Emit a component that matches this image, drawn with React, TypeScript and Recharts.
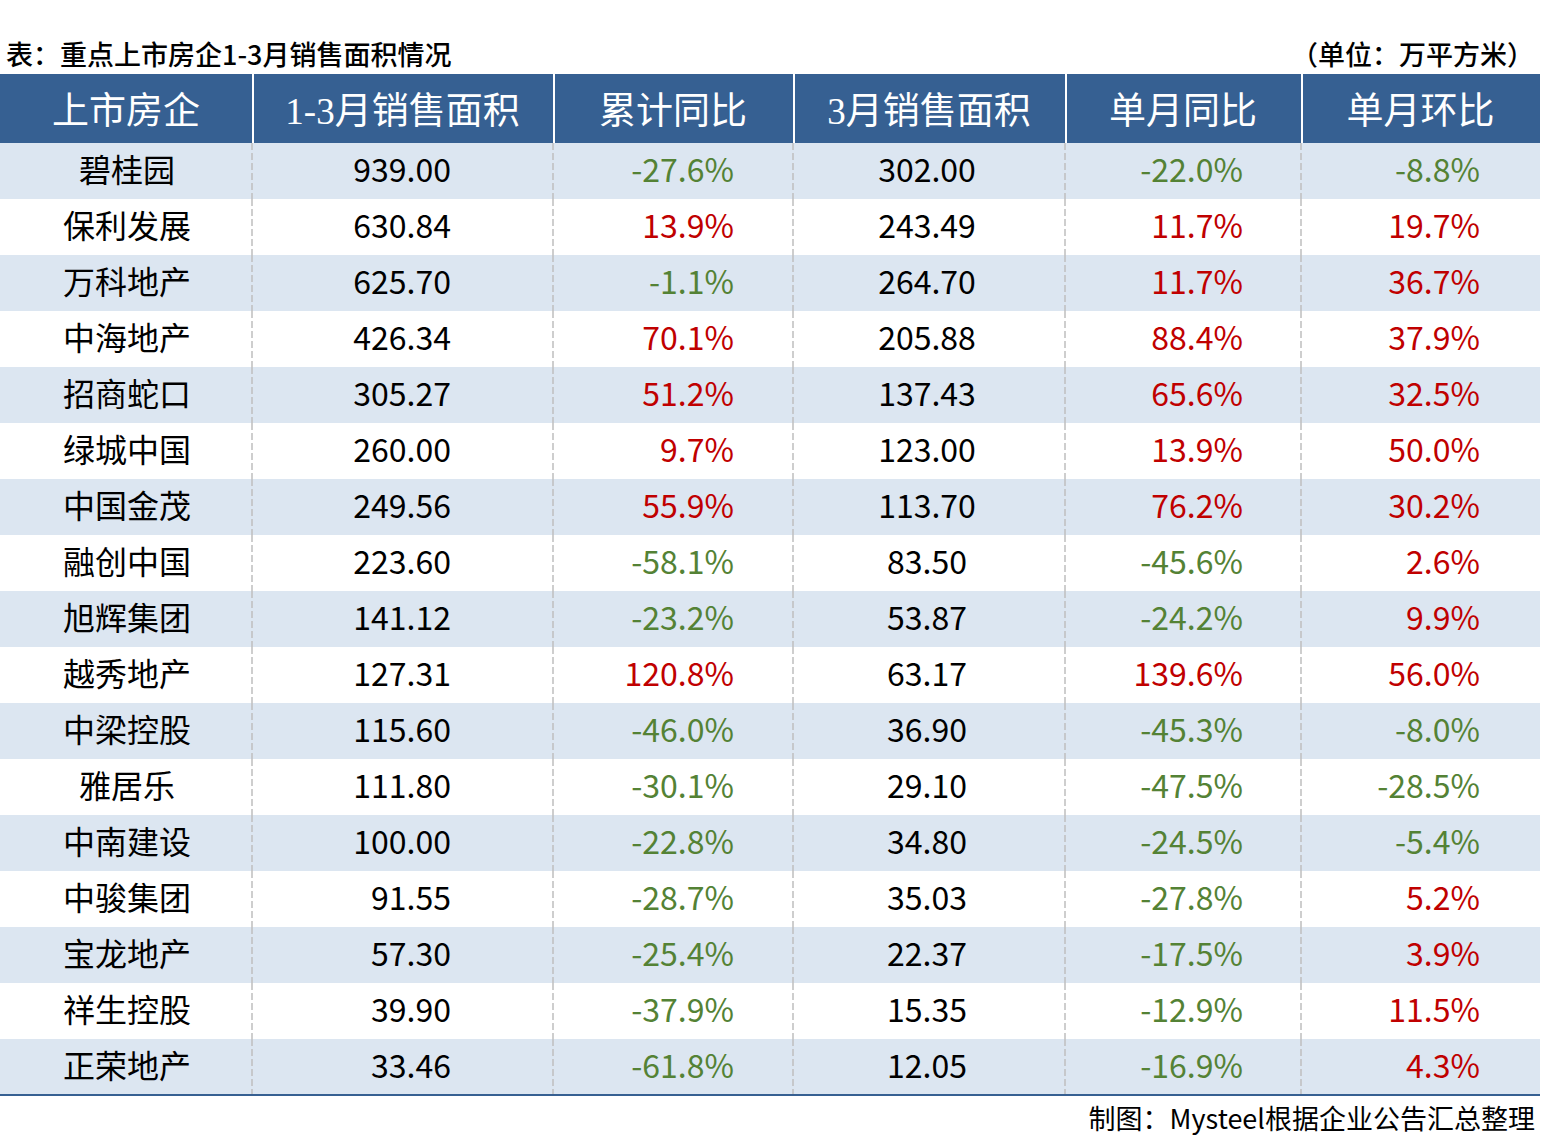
import { Bar, BarChart, XAxis, YAxis } from "recharts";

// 表格数据：重点上市房企1-3月销售面积（万平方米）
const companies = [
  "碧桂园", "保利发展", "万科地产", "中海地产", "招商蛇口", "绿城中国",
  "中国金茂", "融创中国", "旭辉集团", "越秀地产", "中梁控股", "雅居乐",
  "中南建设", "中骏集团", "宝龙地产", "祥生控股", "正荣地产",
];
const ytdArea = [
  939.0, 630.84, 625.7, 426.34, 305.27, 260.0, 249.56, 223.6, 141.12,
  127.31, 115.6, 111.8, 100.0, 91.55, 57.3, 39.9, 33.46,
];
const ytdYoY = [
  -27.6, 13.9, -1.1, 70.1, 51.2, 9.7, 55.9, -58.1, -23.2, 120.8, -46.0,
  -30.1, -22.8, -28.7, -25.4, -37.9, -61.8,
];
const marArea = [
  302.0, 243.49, 264.7, 205.88, 137.43, 123.0, 113.7, 83.5, 53.87, 63.17,
  36.9, 29.1, 34.8, 35.03, 22.37, 15.35, 12.05,
];
const marYoY = [
  -22.0, 11.7, 11.7, 88.4, 65.6, 13.9, 76.2, -45.6, -24.2, 139.6, -45.3,
  -47.5, -24.5, -27.8, -17.5, -12.9, -16.9,
];
const marMoM = [
  -8.8, 19.7, 36.7, 37.9, 32.5, 50.0, 30.2, 2.6, 9.9, 56.0, -8.0, -28.5,
  -5.4, 5.2, 3.9, 11.5, 4.3,
];
const headers = ["上市房企", "1-3月销售面积", "累计同比", "3月销售面积", "单月同比", "单月环比"];

const rows = companies.map((name, i) => ({
  name,
  ytdArea: ytdArea[i],
  ytdYoY: ytdYoY[i],
  marArea: marArea[i],
  marYoY: marYoY[i],
  marMoM: marMoM[i],
}));

const W = 1540;
const colEdges = [0, 252, 553, 793, 1065, 1301, 1540];
const BLUE = "#366092";
const STRIPE = "#DCE6F1";
const GREEN = "#548235";
const RED = "#C00000";
const FONT = "'Noto Sans CJK SC', 'Noto Sans', sans-serif";

const pct = (v: number) => `${v.toFixed(1)}%`;
const pctColor = (v: number) => (v < 0 ? GREEN : RED);

function RowShape(props: any) {
  const { x, y, width, height, index, payload } = props;
  const cy = y + height / 2 - 3;
  const fx = (px: number) => x + (px / W) * width;
  const cell = (text: string, px: number, anchor: "middle" | "end", fill: string) => (
    <text
      x={fx(px)}
      y={cy}
      textAnchor={anchor}
      dominantBaseline="central"
      fontSize={32}
      fontFamily={FONT}
      fill={fill}
    >
      {text}
    </text>
  );
  return (
    <g>
      <rect x={x} y={y} width={width} height={height} fill={index % 2 === 0 ? STRIPE : "#fff"} />
      {colEdges.slice(1, -1).map((e) => (
        <line
          key={e}
          x1={fx(e)}
          x2={fx(e)}
          y1={y}
          y2={y + height}
          stroke="#BFBFBF"
          strokeWidth={1.5}
          strokeDasharray="7 3"
        />
      ))}
      {cell(payload.name, 127, "middle", "#000")}
      {cell(payload.ytdArea.toFixed(2), 451, "end", "#000")}
      {cell(pct(payload.ytdYoY), 734, "end", pctColor(payload.ytdYoY))}
      {cell(payload.marArea.toFixed(2), 927, "middle", "#000")}
      {cell(pct(payload.marYoY), 1243, "end", pctColor(payload.marYoY))}
      {cell(pct(payload.marMoM), 1480, "end", pctColor(payload.marMoM))}
    </g>
  );
}

export default function App() {
  return (
    <div
      style={{
        position: "absolute",
        left: 0,
        top: 0,
        width: 1541,
        height: 1138,
        background: "#fff",
        fontFamily: FONT,
      }}
    >
      <div style={{ position: "absolute", left: 6, top: 34, fontSize: 27, fontWeight: 500, color: "#000" }}>
        表：重点上市房企1-3月销售面积情况
      </div>
      <div style={{ position: "absolute", right: 7, top: 34, fontSize: 27, fontWeight: 500, color: "#000" }}>
        （单位：万平方米）
      </div>

      {/* 表头 */}
      <div style={{ position: "absolute", left: 0, top: 74, width: W, height: 69, background: BLUE }}>
        {headers.map((h, i) => (
          <div
            key={h}
            style={{
              position: "absolute",
              left: colEdges[i],
              width: colEdges[i + 1] - colEdges[i],
              top: 3,
              height: 66,
              lineHeight: "69px",
              textAlign: "center",
              color: "#fff",
              fontSize: 37,
              fontFamily: "'Liberation Serif', 'Noto Sans CJK SC', serif",
            }}
          >
            {h}
          </div>
        ))}
        {colEdges.slice(1, -1).map((e) => (
          <div key={e} style={{ position: "absolute", left: e, top: 0, width: 2, height: 69, background: "#fff" }} />
        ))}
      </div>

      <div style={{ position: "absolute", left: 0, top: 143 }}>
        <BarChart
          width={W}
          height={952}
          data={rows}
          layout="vertical"
          margin={{ top: 0, right: 0, bottom: 0, left: 0 }}
          barCategoryGap={0}
        >
          <XAxis type="number" domain={[0, 1]} hide />
          <YAxis type="category" dataKey="name" hide />
          <Bar dataKey={() => 1} isAnimationActive={false} shape={(p: any) => <RowShape {...p} />} />
        </BarChart>
      </div>

      <div style={{ position: "absolute", left: 0, top: 1094, width: W, height: 2, background: BLUE }} />
      <div style={{ position: "absolute", right: 6, top: 1098, fontSize: 27, fontWeight: 400, color: "#000" }}>
        制图：Mysteel根据企业公告汇总整理
      </div>
    </div>
  );
}
